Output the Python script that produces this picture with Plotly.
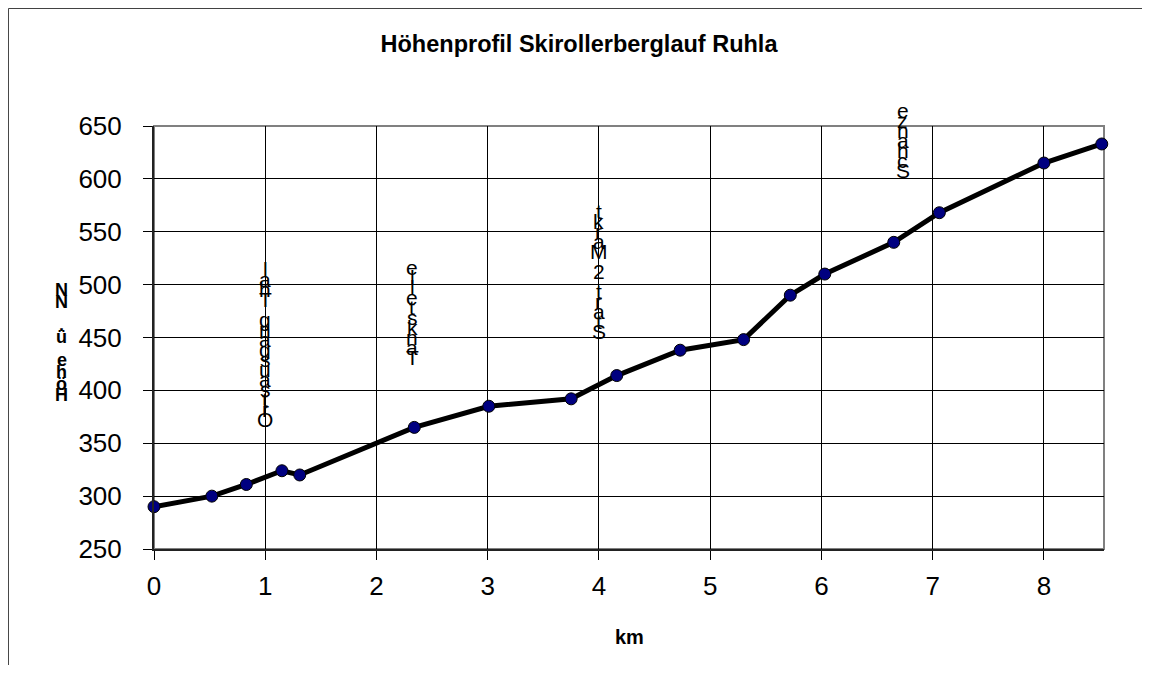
import plotly.graph_objects as go

# Data
km = [0.0, 0.52, 0.83, 1.15, 1.31, 2.34, 3.01, 3.75, 4.16, 4.73, 5.30, 5.72, 6.03, 6.65, 7.06, 8.0, 8.52]
hoehe = [290, 300, 311, 324, 320, 365, 385, 392, 414, 438, 448, 490, 510, 540, 568, 615, 633]

# place labels (text, km position, height of the label centre)
label_texts = ["Ortsausgang Thal", "Tankstelle", "Start 2 Markt", "Schanze"]
label_km = [1.0, 2.32, 4.0, 6.73]
label_h = [443, 474, 512, 636]

x_ticks = [0, 1, 2, 3, 4, 5, 6, 7, 8]
y_ticks = [250, 300, 350, 400, 450, 500, 550, 600, 650]

FONT = "Liberation Sans, Arial, sans-serif"

fig = go.Figure()
fig.add_trace(go.Scatter(
    x=km, y=hoehe, mode="lines+markers",
    line=dict(color="black", width=5),
    marker=dict(size=12, color="#000080", line=dict(color="black", width=1)),
    cliponaxis=False, showlegend=False,
))

annotations = []
SP = 10
for text, xk, yh in zip(label_texts, label_km, label_h):
    n = len(text)
    for i, ch in enumerate(text):
        if ch == " ":
            continue
        # first character at bottom, stacked upwards
        shift = (i - (n - 1) / 2) * SP
        annotations.append(dict(
            x=xk, y=yh, xref="x", yref="y", text=ch, showarrow=False,
            xanchor="center", yanchor="middle", yshift=shift,
            font=dict(family=FONT, size=21, color="black"),
        ))

# stacked y axis title
ytitle = "Höhe ü. NN"
n = len(ytitle)
for i, ch in enumerate(ytitle):
    if ch == " ":
        continue
    annotations.append(dict(
        x=-0.097, y=0.488, xref="paper", yref="paper", text="<b>%s</b>" % ch,
        showarrow=False, xanchor="center", yanchor="middle",
        yshift=(i - (n - 1) / 2) * 11.7,
        font=dict(family=FONT, size=18, color="black"),
    ))

annotations.append(dict(
    x=0.5, y=-0.208, xref="paper", yref="paper", text="<b>km</b>", showarrow=False,
    xanchor="center", yanchor="middle", font=dict(family=FONT, size=20, color="black"),
))

FL, FR, FT, FB = -0.1532, 1.0463, 1.2778, -0.5
frame = dict(color="#404040", width=1)
shapes = [
    dict(type="line", xref="paper", yref="paper", x0=FL, x1=FR, y0=FT, y1=FT, line=frame, layer="below"),
    dict(type="line", xref="paper", yref="paper", x0=FL, x1=FL, y0=FT, y1=FB, line=frame, layer="below"),
    dict(type="line", xref="paper", yref="paper", x0=FR, x1=FR, y0=FT, y1=FB, line=frame, layer="below"),
    dict(type="rect", xref="paper", yref="paper", x0=0, x1=1, y0=0, y1=1,
         line=dict(color="#808080", width=2), layer="below"),
]

fig.update_layout(
    width=1142, height=657,
    margin=dict(l=146, r=46, t=118, b=116, autoexpand=False),
    paper_bgcolor="white", plot_bgcolor="white",
    title=dict(text="<b>Höhenprofil Skirollerberglauf Ruhla</b>", x=0.5, xref="container",
               y=1 - 36 / 657, yanchor="middle", xanchor="center",
               font=dict(family=FONT, size=23.5, color="black")),
    annotations=annotations, shapes=shapes,
    font=dict(family=FONT, color="black"),
)
fig.update_xaxes(
    range=[0, 8.54], tickvals=x_ticks, ticktext=[str(v) for v in x_ticks],
    showgrid=True, gridcolor="black", gridwidth=1,
    showline=True, linecolor="#222222", linewidth=2,
    ticks="outside", ticklen=9, tickcolor="black", tickwidth=1,
    ticklabelstandoff=4,
    tickfont=dict(family=FONT, size=26, color="black"), zeroline=False,
)
fig.update_yaxes(
    range=[250, 650], tickvals=y_ticks, ticktext=[str(v) for v in y_ticks],
    showgrid=True, gridcolor="black", gridwidth=1,
    showline=True, linecolor="#222222", linewidth=2,
    ticks="outside", ticklen=9, tickcolor="black", tickwidth=1,
    ticklabelstandoff=16,
    tickfont=dict(family=FONT, size=26, color="black"), zeroline=False,
)

fig.write_html("out.html")
